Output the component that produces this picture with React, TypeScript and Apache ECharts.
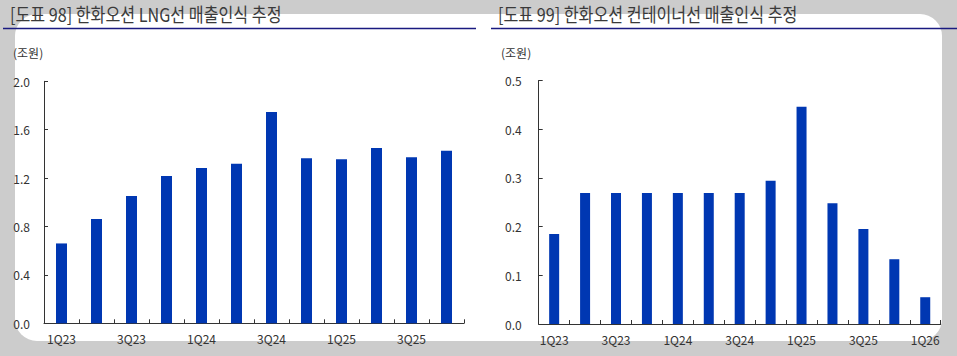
import React, { useEffect, useRef } from "react";
import * as echarts from "echarts";

const lngCategories = ["1Q23", "2Q23", "3Q23", "4Q23", "1Q24", "2Q24", "3Q24", "4Q24", "1Q25", "2Q25", "3Q25", "4Q25"];
const lngValues = [0.66, 0.862, 1.052, 1.217, 1.283, 1.319, 1.746, 1.364, 1.355, 1.449, 1.372, 1.427];

const containerCategories = ["1Q23", "2Q23", "3Q23", "4Q23", "1Q24", "2Q24", "3Q24", "4Q24", "1Q25", "2Q25", "3Q25", "4Q25", "1Q26"];
const containerValues = [0.185, 0.269, 0.269, 0.269, 0.269, 0.269, 0.269, 0.294, 0.446, 0.248, 0.195, 0.133, 0.055];

const leftTitle = "[도표 98] 한화오션 LNG선 매출인식 추정";
const rightTitle = "[도표 99] 한화오션 컨테이너선 매출인식 추정";
const unitLabel = "(조원)";

const BAR = "#0037b2";
const AXIS = "#333333";
const TXT = "#333333";
const FONT = "'Noto Sans CJK KR', 'Noto Sans', sans-serif";

export default function App() {
  const ref = useRef<HTMLDivElement>(null);
  useEffect(() => {
    if (!ref.current) return;
    const chart = echarts.init(ref.current, null, { renderer: "svg" });
    const axisCommon = {
      axisLine: { show: true, lineStyle: { color: AXIS, width: 1 } },
      axisTick: { show: true, inside: true, length: 4, lineStyle: { color: AXIS } },
      splitLine: { show: false },
    };
    chart.setOption({
      animation: false,
      backgroundColor: "#cccccc",
      textStyle: { fontFamily: FONT },
      graphic: [
        {
          type: "rect",
          shape: { x: 15, y: 14, width: 927, height: 327, r: 22 },
          style: { fill: "#ffffff" },
          z: -10,
        },
        {
          type: "text",
          x: 10,
          y: 4,
          scaleX: 0.85,
          style: { text: leftTitle, fill: "#3a3a3a", font: `19px ${FONT}`, lineHeight: 20 },
        },
        {
          type: "text",
          x: 498,
          y: 4,
          scaleX: 0.85,
          style: { text: rightTitle, fill: "#3a3a3a", font: `19px ${FONT}`, lineHeight: 20 },
        },
        {
          type: "line",
          shape: { x1: 3, y1: 28.5, x2: 476, y2: 28.5 },
          style: { stroke: "#1a1a80", lineWidth: 1.5 },
        },
        {
          type: "line",
          shape: { x1: 491, y1: 28.5, x2: 957, y2: 28.5 },
          style: { stroke: "#1a1a80", lineWidth: 1.5 },
        },
        {
          type: "text",
          x: 13,
          y: 46,
          style: { text: unitLabel, fill: TXT, font: `12px ${FONT}` },
        },
        {
          type: "text",
          x: 501,
          y: 46,
          style: { text: unitLabel, fill: TXT, font: `12px ${FONT}` },
        },
      ],
      grid: [
        { left: 44, right: 493, top: 81.3, bottom: 32.7 },
        { left: 538.7, right: 16.3, top: 80.5, bottom: 32 },
      ],
      xAxis: [
        {
          type: "category",
          gridIndex: 0,
          data: lngCategories,
          ...axisCommon,
          axisTick: { ...axisCommon.axisTick, alignWithLabel: false, interval: 0 },
          axisLabel: { interval: 1, color: TXT, fontSize: 12, margin: 9, fontFamily: FONT },
        },
        {
          type: "category",
          gridIndex: 1,
          data: containerCategories,
          ...axisCommon,
          axisTick: { ...axisCommon.axisTick, alignWithLabel: false, interval: 0 },
          axisLabel: { interval: 1, color: TXT, fontSize: 12, margin: 9, fontFamily: FONT },
        },
      ],
      yAxis: [
        {
          type: "value",
          gridIndex: 0,
          min: 0,
          max: 2.0,
          interval: 0.4,
          ...axisCommon,
          axisLabel: { color: TXT, fontSize: 12, margin: 14, formatter: (v: number) => v.toFixed(1), fontFamily: FONT },
        },
        {
          type: "value",
          gridIndex: 1,
          min: 0,
          max: 0.5,
          interval: 0.1,
          ...axisCommon,
          axisLabel: { color: TXT, fontSize: 12, margin: 17, formatter: (v: number) => v.toFixed(1), fontFamily: FONT },
        },
      ],
      series: [
        {
          type: "bar",
          xAxisIndex: 0,
          yAxisIndex: 0,
          data: lngValues,
          barWidth: 11,
          itemStyle: { color: BAR },
        },
        {
          type: "bar",
          xAxisIndex: 1,
          yAxisIndex: 1,
          data: containerValues,
          barWidth: 10,
          itemStyle: { color: BAR },
        },
      ],
    });
    return () => chart.dispose();
  }, []);
  return (
    <div
      ref={ref}
      style={{ position: "fixed", left: 0, top: 0, width: 957, height: 356 }}
    />
  );
}
